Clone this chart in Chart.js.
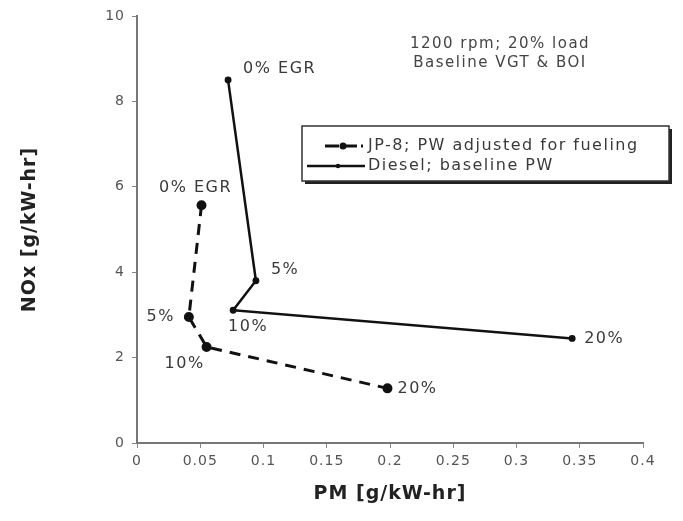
<!DOCTYPE html>
<html>
<head>
<meta charset="utf-8">
<script src="https://cdn.jsdelivr.net/npm/chart.js@4/dist/chart.umd.min.js"></script>
<style>
  html, body { margin: 0; padding: 0; background: #fff; }
</style>
</head>
<body>
<canvas id="chart" width="683" height="521"></canvas>
<script>
// EGR levels, same order for both fuels
const pointLabels = ["0% EGR", "5%", "10%", "20%"];

const jp8PM = [0.051, 0.041, 0.055, 0.198];
const jp8NOx = [5.57, 2.95, 2.25, 1.28];

const dieselPM = [0.072, 0.094, 0.076, 0.344];
const dieselNOx = [8.5, 3.8, 3.11, 2.45];

const xTicks = [0, 0.05, 0.1, 0.15, 0.2, 0.25, 0.3, 0.35, 0.4];
const yTicks = [0, 2, 4, 6, 8, 10];

const seriesNames = ["JP-8; PW adjusted for fueling", "Diesel; baseline PW"];
const noteLines = ["1200 rpm; 20% load", "Baseline VGT & BOI"];

const FONT = "'DejaVu Sans', 'Liberation Sans', sans-serif";

// where each point label sits relative to its marker [dx, dy, align]
const labelPlacement = [
  [[-6, -17, "center"], [-14, 0, "right"], [-22, 17, "center"], [10, 0, "left"]],
  [[15, -11, "left"], [15, -11, "left"], [15, 17, "center"], [12, 0, "left"]],
];

function toPoints(xs, ys) {
  return xs.map((x, i) => ({ x, y: ys[i] }));
}

const spacingPlugin = {
  id: "spacing",
  beforeDraw(chart) {
    chart.ctx.letterSpacing = "1px";
  },
};

const overlayPlugin = {
  id: "overlay",
  afterDatasetsDraw(chart) {
    const ctx = chart.ctx;
    ctx.save();
    ctx.letterSpacing = "1.5px";

    // point labels
    ctx.fillStyle = "#3a3a3a";
    ctx.font = `16px ${FONT}`;
    ctx.textBaseline = "middle";
    chart.data.datasets.forEach((ds, di) => {
      const meta = chart.getDatasetMeta(di);
      meta.data.forEach((pt, pi) => {
        const [dx, dy, align] = labelPlacement[di][pi];
        ctx.textAlign = align;
        ctx.fillText(pointLabels[pi], pt.x + dx, pt.y + dy);
      });
    });

    // condition note
    ctx.textAlign = "center";
    ctx.font = `15px ${FONT}`;
    ctx.fillStyle = "#444";
    ctx.fillText(noteLines[0], 500, 44);
    ctx.fillText(noteLines[1], 500, 63);

    // legend box with drop shadow
    const bx = 302, by = 126, bw = 367, bh = 55;
    ctx.fillStyle = "#222";
    ctx.fillRect(bx + 3, by + 3, bw, bh);
    ctx.fillStyle = "#fff";
    ctx.fillRect(bx, by, bw, bh);
    ctx.strokeStyle = "#333";
    ctx.lineWidth = 1.5;
    ctx.strokeRect(bx, by, bw, bh);

    const rows = [146, 166];
    const samples = [[325, 363, 343], [307, 365, 338]];
    chart.data.datasets.forEach((ds, di) => {
      const y = rows[di];
      const [x0, x1, xm] = samples[di];
      ctx.strokeStyle = "#111";
      ctx.lineWidth = ds.borderWidth;
      ctx.setLineDash(di === 0 ? [14, 4] : []);
      ctx.beginPath();
      ctx.moveTo(x0, y);
      ctx.lineTo(x1, y);
      ctx.stroke();
      ctx.setLineDash([]);
      ctx.fillStyle = "#111";
      ctx.beginPath();
      ctx.arc(xm, y, ds.pointRadius, 0, Math.PI * 2);
      ctx.fill();
      ctx.fillStyle = "#3a3a3a";
      ctx.font = `16px ${FONT}`;
      ctx.textAlign = "left";
      ctx.fillText(seriesNames[di], 368, y);
    });
    ctx.restore();
  },
};

new Chart(document.getElementById("chart"), {
  type: "scatter",
  data: {
    datasets: [
      {
        label: seriesNames[0],
        data: toPoints(jp8PM, jp8NOx),
        showLine: true,
        borderColor: "#111",
        backgroundColor: "#111",
        borderWidth: 3,
        borderDash: [11, 8],
        pointRadius: 3.5,
      },
      {
        label: seriesNames[1],
        data: toPoints(dieselPM, dieselNOx),
        showLine: true,
        borderColor: "#111",
        backgroundColor: "#111",
        borderWidth: 2.5,
        pointRadius: 2.2,
      },
    ],
  },
  options: {
    responsive: false,
    animation: false,
    devicePixelRatio: 1,
    layout: { padding: { top: 16, right: 40, left: 0, bottom: 0 } },
    plugins: {
      legend: { display: false },
      tooltip: { enabled: false },
    },
    scales: {
      x: {
        type: "linear",
        min: 0,
        max: 0.4,
        afterBuildTicks(scale) {
          scale.ticks = xTicks.map((value) => ({ value }));
        },
        afterFit(scale) {
          scale.height = 78;
        },
        ticks: {
          color: "#555",
          font: { family: FONT, size: 14 },
          padding: 5,
          maxRotation: 0,
          callback: (v) => String(v),
        },
        grid: { drawOnChartArea: false, tickLength: 5, color: "#888" },
        border: { color: "#777", width: 2 },
        title: {
          display: true,
          text: "PM [g/kW-hr]",
          color: "#222",
          font: { family: FONT, size: 19, weight: "bold" },
          padding: { top: 0, bottom: 16 },
        },
      },
      y: {
        type: "linear",
        min: 0,
        max: 10,
        afterBuildTicks(scale) {
          scale.ticks = yTicks.map((value) => ({ value }));
        },
        afterFit(scale) {
          scale.width = 137;
        },
        ticks: {
          color: "#555",
          font: { family: FONT, size: 14 },
          padding: 7,
        },
        grid: { drawOnChartArea: false, tickLength: 5, color: "#888" },
        border: { color: "#777", width: 2 },
        title: {
          display: true,
          text: "NOx [g/kW-hr]",
          color: "#222",
          font: { family: FONT, size: 19, weight: "bold" },
          padding: { top: 19, bottom: 0 },
        },
      },
    },
  },
  plugins: [spacingPlugin, overlayPlugin],
});
</script>
</body>
</html>
